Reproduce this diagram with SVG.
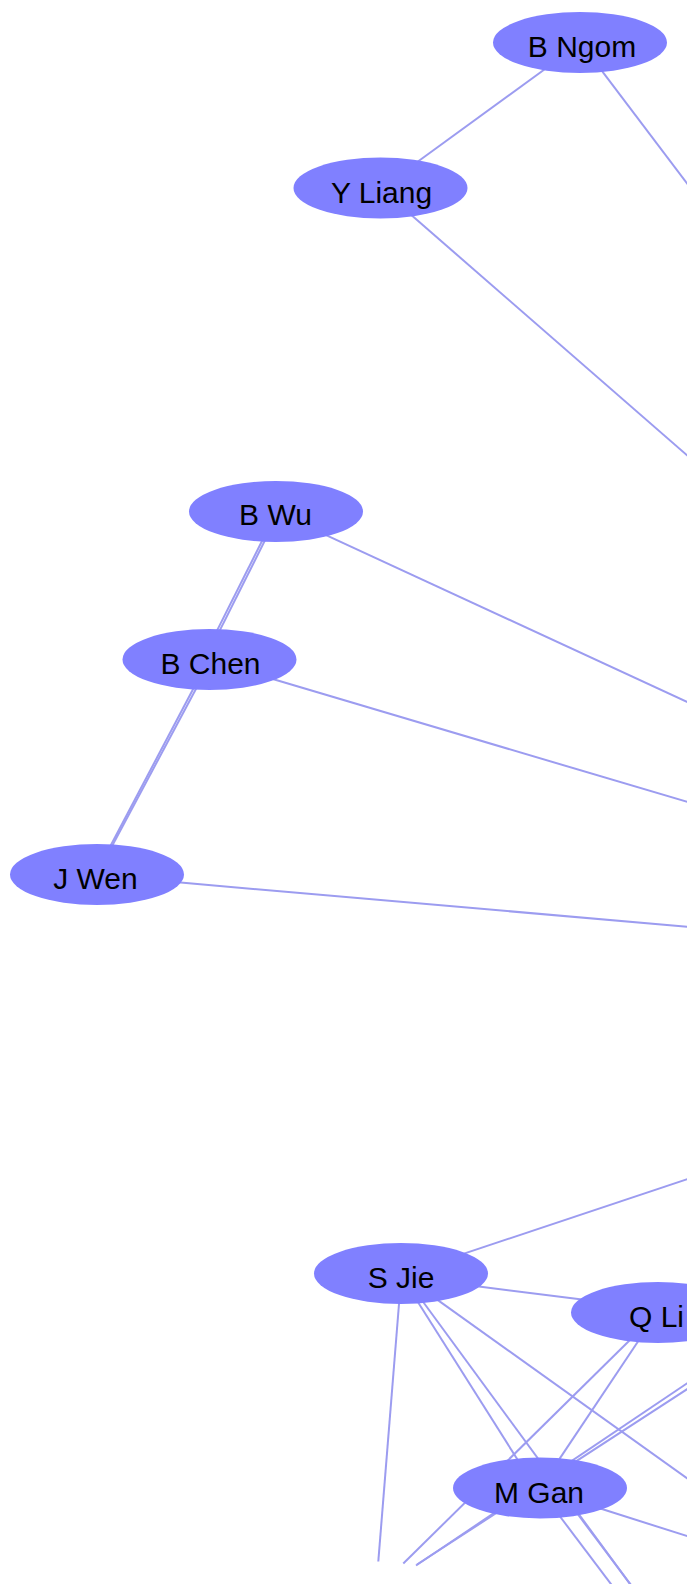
<svg xmlns="http://www.w3.org/2000/svg" width="687" height="1584" viewBox="0 0 687 1584">
<style>
.e{stroke:#9c9cf0;stroke-width:2;fill:none}
.n ellipse{fill:#8080ff;stroke:none}
.n text{font-family:"Liberation Sans",Arial,sans-serif;font-size:30px;fill:#000;text-anchor:middle}
</style>
<rect width="687" height="1584" fill="#ffffff"/>
<g id="connectors">
<line class="e" x1="549.2" y1="66" x2="413.5" y2="164.7"/>
<line class="e" x1="598.5" y1="66.3" x2="720" y2="227"/>
<line class="e" x1="409" y1="213" x2="720" y2="484"/>
<line class="e" x1="263.9" y1="537.2" x2="214.6" y2="635.4"/>
<line class="e" x1="266.5" y1="537.2" x2="217.3" y2="635.4"/>
<line class="e" x1="195" y1="685.5" x2="108.6" y2="849.5"/>
<line class="e" x1="197.8" y1="685.5" x2="110.2" y2="849.5"/>
<line class="e" x1="323.9" y1="534.2" x2="720" y2="717.1"/>
<line class="e" x1="270.2" y1="678.3" x2="720" y2="811.6"/>
<line class="e" x1="175" y1="882.1" x2="720" y2="929.6"/>
<line class="e" x1="458" y1="1255.6" x2="720" y2="1168.3"/>
<line class="e" x1="473" y1="1285.8" x2="588" y2="1300.3"/>
<line class="e" x1="399.4" y1="1299" x2="378.3" y2="1561.5"/>
<line class="e" x1="416" y1="1299" x2="520" y2="1463.5"/>
<line class="e" x1="421" y1="1299" x2="640" y2="1597.6"/>
<line class="e" x1="434" y1="1297.4" x2="720" y2="1501.9"/>
<line class="e" x1="632" y1="1338" x2="403.3" y2="1563.5"/>
<line class="e" x1="640" y1="1338.5" x2="555" y2="1465.6"/>
<line class="e" x1="720" y1="1361.2" x2="416" y2="1565.5"/>
<line class="e" x1="720" y1="1367.9" x2="417" y2="1564.5"/>
<line class="e" x1="598" y1="1507.8" x2="720" y2="1546.5"/>
<line class="e" x1="556.6" y1="1512" x2="620" y2="1596"/>
<line class="e" x1="575" y1="1510.5" x2="640" y2="1597"/>
</g>
<g id="node-b-ngom" class="n"><ellipse cx="580" cy="42.5" rx="87" ry="30.5"/><text x="582" y="57">B Ngom</text></g>
<g id="node-y-liang" class="n"><ellipse cx="380.5" cy="188" rx="87" ry="30.5"/><text x="381.5" y="202.5">Y Liang</text></g>
<g id="node-b-wu" class="n"><ellipse cx="276" cy="511.5" rx="87" ry="30.5"/><text x="275.5" y="524.5">B Wu</text></g>
<g id="node-b-chen" class="n"><ellipse cx="209.5" cy="659.5" rx="87" ry="30.5"/><text x="210.5" y="673.5">B Chen</text></g>
<g id="node-j-wen" class="n"><ellipse cx="97" cy="874.5" rx="87" ry="30.5"/><text x="95.5" y="888.5">J Wen</text></g>
<g id="node-s-jie" class="n"><ellipse cx="401" cy="1273.5" rx="87" ry="30.5"/><text x="401" y="1288">S Jie</text></g>
<g id="node-q-li" class="n"><ellipse cx="658" cy="1312.5" rx="87" ry="30.5"/><text x="629" y="1326.7" style="text-anchor:start">Q Li</text></g>
<g id="node-m-gan" class="n"><ellipse cx="540" cy="1488" rx="87" ry="30.5"/><text x="539" y="1502.5">M Gan</text></g>
</svg>
